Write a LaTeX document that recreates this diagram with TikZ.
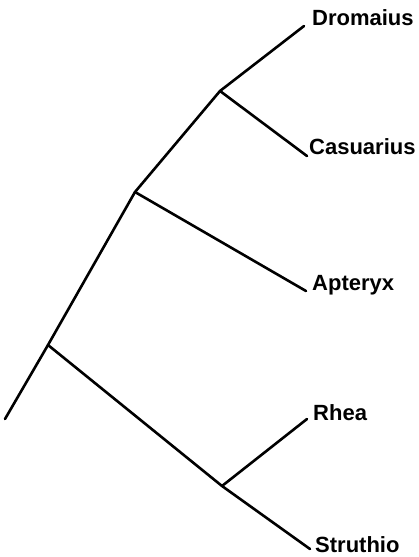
\documentclass[tikz,border=0pt]{standalone}
\usepackage{fontspec}
\setmainfont{Liberation Sans}
\begin{document}
\begin{tikzpicture}[x=1pt,y=-1pt,
  branch/.style={line width=2.6pt,line cap=round,line join=round},
  taxon/.style={anchor=base west,inner sep=0pt,font=\fontsize{22}{25}\selectfont\bfseries}]
\useasboundingbox (0,0) rectangle (419,557);
\coordinate (root) at (5,419);
\coordinate (A) at (48,345);
\coordinate (B) at (135,192);
\coordinate (C) at (220,91);
\coordinate (D) at (222,486);
\coordinate (tDro) at (304,26);
\coordinate (tCas) at (307,156);
\coordinate (tApt) at (306,291);
\coordinate (tRhe) at (307,419);
\coordinate (tStr) at (310,549);
\draw[branch] (root) -- (A) -- (B) -- (C) -- (tDro);
\draw[branch] (C) -- (tCas);
\draw[branch] (B) -- (tApt);
\draw[branch] (A) -- (D) -- (tStr);
\draw[branch] (D) -- (tRhe);
\node[taxon] (lDro) at (312,25) {Dromaius};
\node[taxon] (lCas) at (309,154) {Casuarius};
\node[taxon] (lApt) at (312,290) {Apteryx};
\node[taxon] (lRhe) at (313,420) {Rhea};
\node[taxon] (lStr) at (315,552) {Struthio};
\end{tikzpicture}
\end{document}
